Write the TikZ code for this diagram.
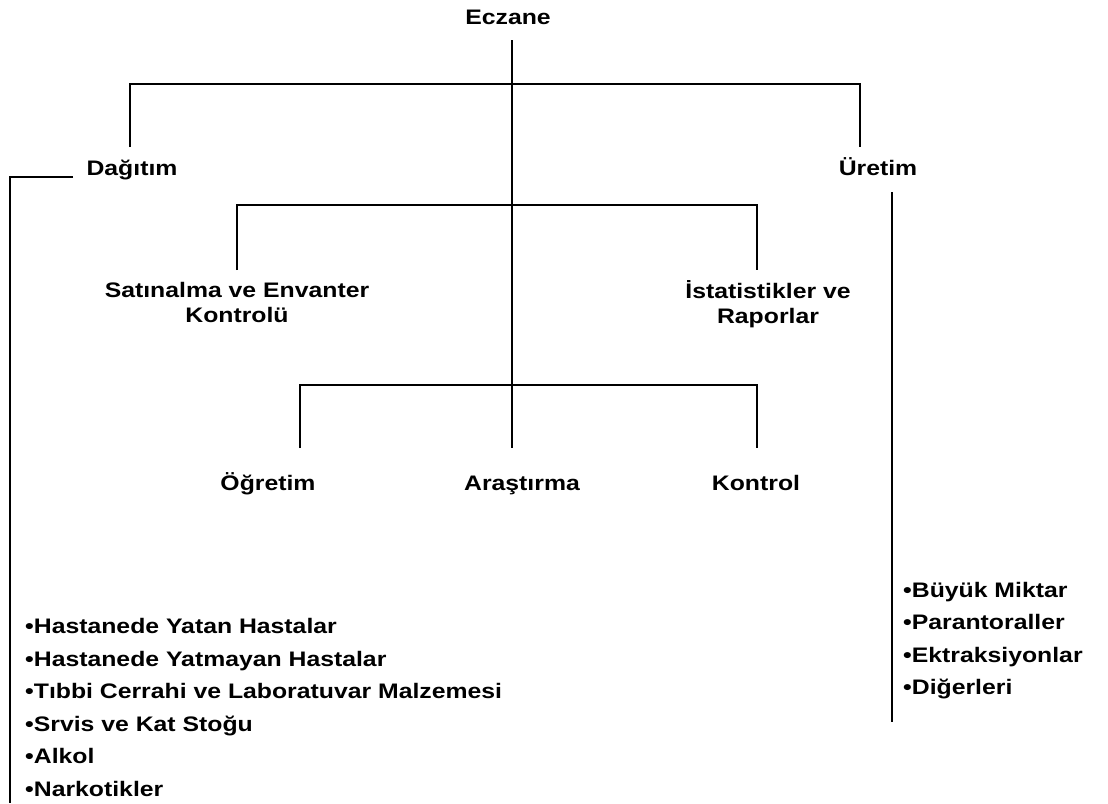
\documentclass[tikz,border=0pt]{standalone}
\usepackage{fontspec}
\setmainfont{Liberation Sans Bold}[FakeStretch=1.18]
\begin{document}
\begin{tikzpicture}[x=1pt,y=-1pt,
  lbl/.style={inner sep=0pt, font=\fontsize{21}{25}\selectfont, align=center, anchor=base},
  lst/.style={inner sep=0pt, font=\fontsize{21}{32.5}\selectfont, align=left, anchor=base west},
  conn/.style={line width=2pt}]
\useasboundingbox (0,0) rectangle (1108,803);
\node[lbl] (ecz) at (508,24) {Eczane};
\node[lbl] (dag) at (132,175) {Dağıtım};
\node[lbl] (ure) at (878,175) {Üretim};
\node[lbl] (sat) at (237,322) {Satınalma ve Envanter\\Kontrolü};
\node[lbl] (ist) at (768,323) {İstatistikler ve\\Raporlar};
\node[lbl] (ogr) at (268,490) {Öğretim};
\node[lbl] (ara) at (522,490) {Araştırma};
\node[lbl] (kon) at (756,490) {Kontrol};
\node[lst] (dlist) at (25,796) {•Hastanede Yatan Hastalar\\•Hastanede Yatmayan Hastalar\\•Tıbbi Cerrahi ve Laboratuvar Malzemesi\\•Srvis ve Kat Stoğu\\•Alkol\\•Narkotikler};
\node[lst] (ulist) at (903,694.5) {•Büyük Miktar\\•Parantoraller\\•Ektraksiyonlar\\•Diğerleri};
% junction coordinates
\coordinate (etop) at (512,40);
\coordinate (ebot) at (512,448);
\coordinate (j1l) at (130,84);
\coordinate (j1r) at (860,84);
\coordinate (j1lb) at (130,147);
\coordinate (j1rb) at (860,147);
\coordinate (j2l) at (237,205);
\coordinate (j2r) at (757,205);
\coordinate (j2lb) at (237,270);
\coordinate (j2rb) at (757,270);
\coordinate (j3l) at (300,385);
\coordinate (j3r) at (757,385);
\coordinate (j3lb) at (300,448);
\coordinate (j3rb) at (757,448);
\coordinate (dstart) at (73,177);
\coordinate (dbend) at (10,177);
\coordinate (dend) at (10,803);
\coordinate (utop) at (892,192);
\coordinate (uend) at (892,722);
\draw[conn] (etop) -- (ebot);
\draw[conn] (j1lb) -- (j1l) -- (j1r) -- (j1rb);
\draw[conn] (j2lb) -- (j2l) -- (j2r) -- (j2rb);
\draw[conn] (j3lb) -- (j3l) -- (j3r) -- (j3rb);
\draw[conn] (dstart) -- (dbend) -- (dend);
\draw[conn] (utop) -- (uend);
\end{tikzpicture}
\end{document}
